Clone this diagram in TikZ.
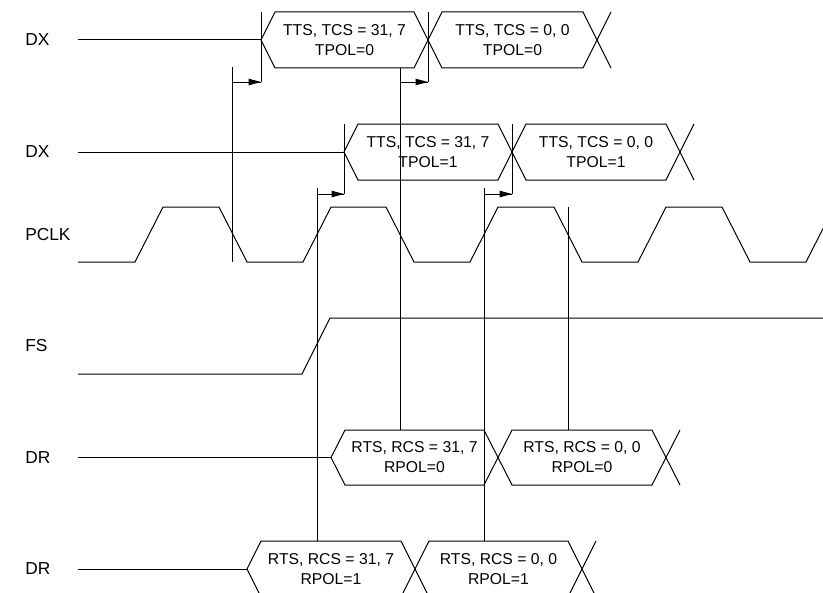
\documentclass[tikz,border=0pt]{standalone}
\usepackage{fontspec}
\setmainfont{Liberation Sans}

\begin{document}
\begin{tikzpicture}[x=0.75pt,y=0.75pt,yscale=-1,xscale=1,
  wave/.style={line width=0.75},
  mark line/.style={line width=0.75},
  lbl/.style={anchor=west,inner sep=0.75pt,font=\fontsize{13}{15}\selectfont},
  bustext/.style={inner sep=0.75pt,align=center,font=\fontsize{11.8}{15}\selectfont}]
%set diagram to 823 x 592
\clip (0,0) rectangle (823,592);

%Bus DX (TPOL=0)
\draw [wave]  (78,40) -- (261,40) ;
\draw [wave]  (261,40) -- (275,12) -- (414,12) -- (442,68) -- (583,68) -- (611,12) ;
\draw [wave]  (261,40) -- (275,68) -- (414,68) -- (442,12) -- (583,12) -- (611,68) ;
%Bus DX (TPOL=1)
\draw [wave]  (78,152) -- (344,152) ;
\draw [wave]  (344,152) -- (358,124) -- (498,124) -- (526,180) -- (666,180) -- (694,124) ;
\draw [wave]  (344,152) -- (358,180) -- (498,180) -- (526,124) -- (666,124) -- (694,180) ;
%Clock PCLK
\draw [wave]  (78,262) -- (135,262) -- (163,207) -- (219,207) -- (247,262) -- (303,262) -- (331,207) -- (386,207) -- (414,262) -- (470,262) -- (498,207) -- (554,207) -- (582,262) -- (638,262) -- (666,207) -- (722,207) -- (750,262) -- (806,262) -- (834,207) ;
%Frame sync FS
\draw [wave]  (78,374) -- (302,374) -- (330,318) -- (830,318) ;
%Bus DR (RPOL=0)
\draw [wave]  (78,457.5) -- (331,457.5) ;
\draw [wave]  (331,457.5) -- (345,430) -- (484,430) -- (512,485) -- (652,485) -- (680,430) ;
\draw [wave]  (331,457.5) -- (345,485) -- (484,485) -- (512,430) -- (652,430) -- (680,485) ;
%Bus DR (RPOL=1)
\draw [wave]  (78,569) -- (247,569) ;
\draw [wave]  (247,569) -- (261,541) -- (401,541) -- (429,597) -- (568,597) -- (596,541) ;
\draw [wave]  (247,569) -- (261,597) -- (401,597) -- (429,541) -- (568,541) -- (596,597) ;

%Straight Lines (falling edge, TPOL=0)
\draw [mark line]  (232,67) -- (232,262) ;
\draw [mark line]  (261,12) -- (261,82) ;
\draw [mark line]  (232,82) -- (261,82) ;
\draw [shift={(261,82)}, rotate = 180] [fill=black][line width=0.08] [draw opacity=0] (12.5,-3.4) -- (0,0) -- (12.5,3.4) -- cycle ;
\draw [mark line]  (400,68) -- (400,430) ;
\draw [mark line]  (428,12) -- (428,82) ;
\draw [mark line]  (400,82) -- (428,82) ;
\draw [shift={(428,82)}, rotate = 180] [fill=black][line width=0.08] [draw opacity=0] (12.5,-3.4) -- (0,0) -- (12.5,3.4) -- cycle ;
%Straight Lines (rising edge, TPOL=1)
\draw [mark line]  (317,188) -- (317,541) ;
\draw [mark line]  (344,124) -- (344,194) ;
\draw [mark line]  (317,194) -- (344,194) ;
\draw [shift={(344,194)}, rotate = 180] [fill=black][line width=0.08] [draw opacity=0] (12.5,-3.4) -- (0,0) -- (12.5,3.4) -- cycle ;
\draw [mark line]  (484,188) -- (484,541) ;
\draw [mark line]  (512,124) -- (512,194) ;
\draw [mark line]  (484,194) -- (512,194) ;
\draw [shift={(512,194)}, rotate = 180] [fill=black][line width=0.08] [draw opacity=0] (12.5,-3.4) -- (0,0) -- (12.5,3.4) -- cycle ;
%Straight Lines (receive edge)
\draw [mark line]  (568,207) -- (568,430) ;

% Text Node
\draw (24,40) node (dxA) [lbl] {DX};
\draw (24,152) node (dxB) [lbl] {DX};
\draw (24,234.5) node (pclk) [lbl] {PCLK};
\draw (24,346) node (fs) [lbl] {FS};
\draw (24,457.5) node (drA) [lbl] {DR};
\draw (24,569) node (drB) [lbl] {DR};
% Text Node
\draw (344.5,40) node (txA1) [bustext] {TTS, TCS = 31, 7\\TPOL=0};
\draw (512.5,40) node (txA2) [bustext] {TTS, TCS = 0, 0\\TPOL=0};
\draw (428,152) node (txB1) [bustext] {TTS, TCS = 31, 7\\TPOL=1};
\draw (596,152) node (txB2) [bustext] {TTS, TCS = 0, 0\\TPOL=1};
\draw (414.5,457.5) node (rxA1) [bustext] {RTS, RCS = 31, 7\\RPOL=0};
\draw (582,457.5) node (rxA2) [bustext] {RTS, RCS = 0, 0\\RPOL=0};
\draw (331,569) node (rxB1) [bustext] {RTS, RCS = 31, 7\\RPOL=1};
\draw (498.5,569) node (rxB2) [bustext] {RTS, RCS = 0, 0\\RPOL=1};

\end{tikzpicture}
\end{document}
